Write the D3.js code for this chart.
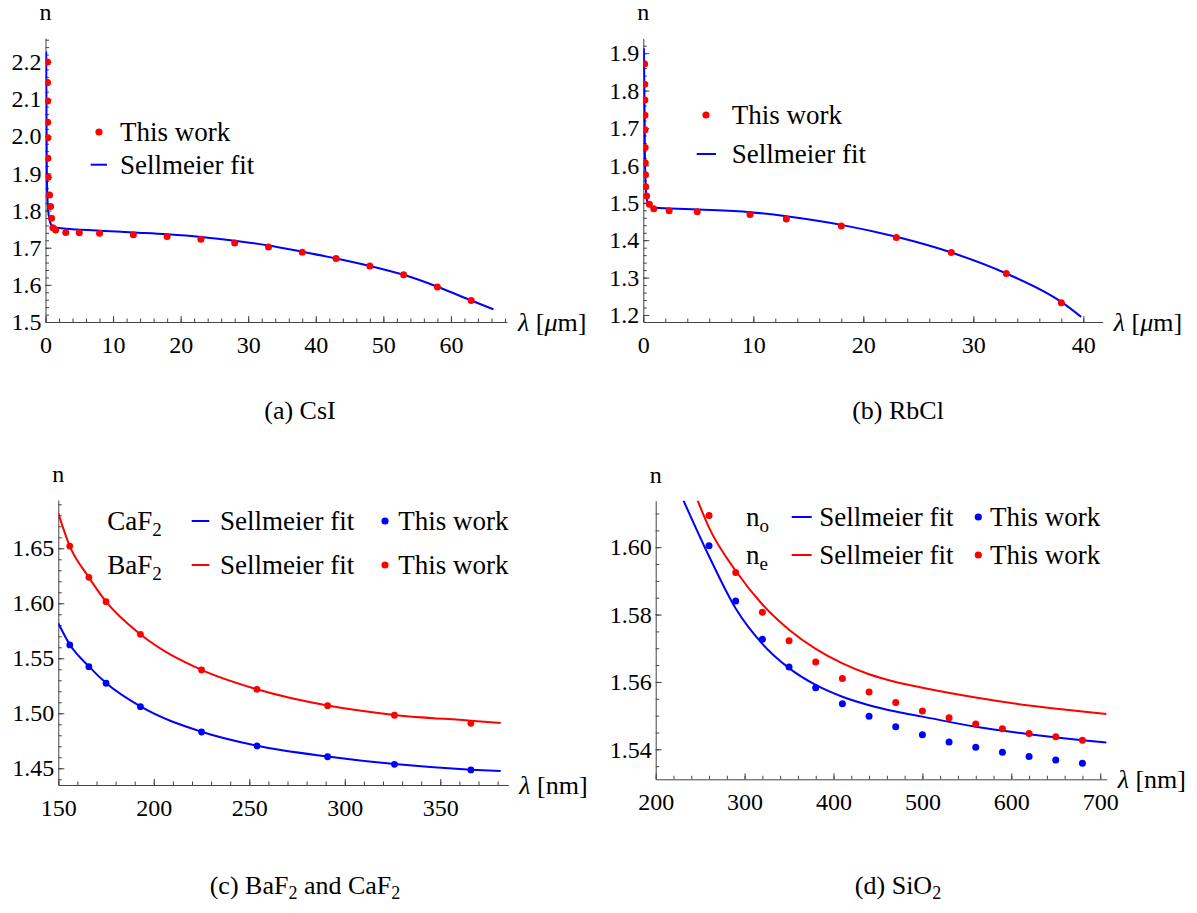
<!DOCTYPE html>
<html>
<head>
<meta charset="utf-8">
<script src="https://cdn.jsdelivr.net/npm/d3@7"></script>
<style>
  body { margin: 0; background: #fff; }
</style>
</head>
<body>
<div id="chart"></div>
<script>
// ---- (a) CsI, wavelength in um ----
const csiLambda = [0.30, 0.31, 0.32, 0.33, 0.34, 0.36, 0.40, 0.60, 0.75, 0.90, 1.1, 1.5, 3, 5, 8, 13, 18, 23, 28, 33, 38, 43, 48, 53, 58, 63];
const csiN      = [2.200, 2.145, 2.095, 2.038, 1.996, 1.941, 1.890, 1.842, 1.811, 1.779, 1.754, 1.748, 1.741, 1.740, 1.739, 1.735, 1.730, 1.723, 1.713, 1.702, 1.688, 1.671, 1.651, 1.627, 1.594, 1.558];
const csiFitLambda = [0.1, 0.15, 0.2, 0.3, 0.4, 0.6, 0.8, 1.2, 2, 3, 8, 13, 18, 23, 28, 33, 38, 43, 48, 53, 58, 63, 66.3];
const csiFitN      = [2.228, 2.05, 1.90, 1.83, 1.80, 1.775, 1.763, 1.756, 1.753, 1.751, 1.746, 1.741, 1.736, 1.729, 1.719, 1.706, 1.689, 1.671, 1.651, 1.627, 1.595, 1.558, 1.534];
const csiXTicks = [0, 10, 20, 30, 40, 50, 60];
const csiYTicks = [1.5, 1.6, 1.7, 1.8, 1.9, 2.0, 2.1, 2.2];

// ---- (b) RbCl, wavelength in um ----
const rbclLambda = [0.12, 0.13, 0.14, 0.15, 0.16, 0.17, 0.18, 0.20, 0.22, 0.30, 0.55, 0.95, 2.35, 4.9, 9.7, 13, 18, 23, 28, 33, 38];
const rbclN      = [1.871, 1.817, 1.775, 1.734, 1.695, 1.648, 1.607, 1.575, 1.543, 1.518, 1.496, 1.484, 1.479, 1.476, 1.469, 1.457, 1.438, 1.407, 1.367, 1.311, 1.233];
const rbclFitLambda = [0.05, 0.1, 0.15, 0.25, 0.45, 1.0, 2.4, 5, 9.7, 13, 18, 23, 28, 33, 38, 39.8];
const rbclFitN      = [1.913, 1.80, 1.62, 1.53, 1.494, 1.487, 1.485, 1.482, 1.475, 1.464, 1.441, 1.409, 1.367, 1.311, 1.235, 1.195];
const rbclXTicks = [0, 10, 20, 30, 40];
const rbclYTicks = [1.2, 1.3, 1.4, 1.5, 1.6, 1.7, 1.8, 1.9];

// ---- (c) BaF2 and CaF2, wavelength in nm ----
const fluorLambda = [156, 166, 175, 193, 225, 254, 291, 326, 366];
const caf2N = [1.5621, 1.5424, 1.5273, 1.5060, 1.4830, 1.4703, 1.4605, 1.4536, 1.4485];
const baf2N = [1.6520, 1.6236, 1.6015, 1.5718, 1.5394, 1.5218, 1.5069, 1.4982, 1.4909];
const caf2FitLambda = [150, 156, 166, 175, 193, 225, 254, 291, 326, 366, 381.6];
const caf2FitN      = [1.5818, 1.5625, 1.5426, 1.5275, 1.5062, 1.4832, 1.4705, 1.4607, 1.4538, 1.4487, 1.4475];
const baf2FitLambda = [150, 156, 166, 175, 193, 225, 254, 291, 326, 366, 381.6];
const baf2FitN      = [1.6818, 1.6520, 1.6236, 1.6015, 1.5718, 1.5394, 1.5218, 1.5070, 1.4985, 1.4933, 1.4912];
const fluorXTicks = [150, 200, 250, 300, 350];
const fluorYTicks = [1.45, 1.50, 1.55, 1.60, 1.65];

// ---- (d) SiO2, wavelength in nm ----
const sio2Lambda = [260, 290, 320, 350, 380, 410, 440, 470, 500, 530, 560, 590, 620, 650, 680];
const noN = [1.6004, 1.5840, 1.5727, 1.5644, 1.5583, 1.5535, 1.5498, 1.5467, 1.5443, 1.5422, 1.5406, 1.5391, 1.5379, 1.5368, 1.5359];
const neN = [1.6094, 1.5925, 1.5807, 1.5722, 1.5659, 1.5610, 1.5570, 1.5539, 1.5514, 1.5494, 1.5475, 1.5461, 1.5447, 1.5437, 1.5427];
const noFitLambda = [231, 260, 290, 320, 350, 380, 410, 440, 470, 500, 560, 620, 680, 707];
const noFitN      = [1.6140, 1.5973, 1.5818, 1.5713, 1.5641, 1.5591, 1.5556, 1.5531, 1.5512, 1.5497, 1.5467, 1.5445, 1.5427, 1.5420];
const neFitLambda = [247, 260, 290, 320, 350, 380, 410, 440, 470, 500, 560, 620, 680, 707];
const neFitN      = [1.6140, 1.6058, 1.5930, 1.5830, 1.5755, 1.5698, 1.5655, 1.5623, 1.5600, 1.5583, 1.5554, 1.5530, 1.5512, 1.5505];
const sio2XTicks = [200, 300, 400, 500, 600, 700];
const sio2YTicks = [1.54, 1.56, 1.58, 1.60];

const RED = "#ff0000";
const BLUE = "#0000ff";
const AXIS = "#444";
const FONT = "'Liberation Serif', 'Times New Roman', 'DejaVu Serif', serif";

const svg = d3.select("#chart").append("svg")
    .attr("width", 1197)
    .attr("height", 913);

function addText(sel, size) {
    return sel.append("text")
        .style("font-family", FONT)
        .style("font-size", size + "px")
        .attr("fill", "#000");
}

function drawPanel(p) {
    const x = d3.scaleLinear().domain(p.xDomain).range([p.left, p.right]);
    const y = d3.scaleLinear().domain(p.yDomain).range([p.bottom, p.top]);

    svg.append("clipPath").attr("id", "clip-" + p.id)
        .append("rect")
        .attr("x", p.left).attr("y", p.top)
        .attr("width", p.right - p.left).attr("height", p.bottom - p.top);

    const g = svg.append("g");

    // minor ticks (inward)
    g.append("g")
        .attr("transform", `translate(0,${p.bottom})`)
        .call(d3.axisBottom(x).tickValues(p.xMinor).tickSize(-3.5).tickFormat(""))
        .call(a => a.select(".domain").remove());
    g.append("g")
        .attr("transform", `translate(${p.left},0)`)
        .call(d3.axisLeft(y).tickValues(p.yMinor).tickSize(-3.5).tickFormat(""))
        .call(a => a.select(".domain").remove());

    // major ticks + labels
    const xa = g.append("g")
        .attr("transform", `translate(0,${p.bottom})`)
        .call(d3.axisBottom(x).tickValues(p.xTicks).tickSize(-6).tickSizeOuter(0)
            .tickPadding(14).tickFormat(d3.format("d")));
    const ya = g.append("g")
        .attr("transform", `translate(${p.left},0)`)
        .call(d3.axisLeft(y).tickValues(p.yTicks).tickSize(-6).tickSizeOuter(0)
            .tickPadding(4).tickFormat(d3.format(p.yFormat)));

    g.selectAll(".domain, .tick line").attr("stroke", AXIS).attr("stroke-width", 1);
    [xa, ya].forEach(a => a.selectAll("text")
        .attr("fill", "#000")
        .style("font-family", FONT)
        .style("font-size", "24px"));

    // axis labels
    addText(g, 24)
        .attr("x", p.left)
        .attr("y", p.top - 18)
        .attr("text-anchor", "middle")
        .text("n");

    const xl = addText(g, 26)
        .attr("x", p.right + 11)
        .attr("y", p.bottom + 9);
    xl.append("tspan").style("font-style", "italic").text("λ");
    if (p.unit === "um") {
        xl.append("tspan").text(" [");
        xl.append("tspan").style("font-style", "italic").text("μ");
        xl.append("tspan").text("m]");
    } else {
        xl.append("tspan").text(" [nm]");
    }

    const plot = g.append("g").attr("clip-path", `url(#clip-${p.id})`);
    const line = d3.line()
        .x(d => x(d[0]))
        .y(d => y(d[1]))
        .curve(d3.curveMonotoneX);

    p.fits.forEach(f => {
        plot.append("path")
            .datum(d3.zip(f.x, f.y))
            .attr("fill", "none")
            .attr("stroke", f.color)
            .attr("stroke-width", 2)
            .attr("d", line);
    });
    p.points.forEach(s => {
        plot.append("g")
            .selectAll("circle")
            .data(d3.zip(s.x, s.y))
            .join("circle")
            .attr("cx", d => x(d[0]))
            .attr("cy", d => y(d[1]))
            .attr("r", s.r || 3.5)
            .attr("fill", s.color);
    });
    return g;
}

function legendText(g, x, y, parts) {
    const t = addText(g, 27)
        .attr("x", x).attr("y", y)
        .attr("dy", "0.33em");
    parts.forEach(pt => {
        if (pt.sub) {
            t.append("tspan").style("font-size", "19px").attr("dy", "6").text(pt.sub);
        } else {
            t.append("tspan").text(pt.text);
        }
    });
    return t;
}

function caption(x, y, parts) {
    const t = addText(svg, 26)
        .attr("x", x).attr("y", y)
        .attr("text-anchor", "middle");
    let down = false;
    parts.forEach(pt => {
        if (pt.sub) {
            t.append("tspan").style("font-size", "18px").attr("dy", "5").text(pt.sub);
            down = true;
        } else {
            t.append("tspan").attr("dy", down ? "-5" : null).text(pt.text);
            down = false;
        }
    });
}

// ---------- (a) CsI ----------
const ga = drawPanel({
    id: "a", left: 45.5, right: 507, top: 38, bottom: 322,
    xDomain: [0, 68.3], yDomain: [1.5, 2.2646],
    xTicks: csiXTicks, yTicks: csiYTicks, yFormat: ".1f", unit: "um",
    xMinor: d3.range(0, 68.3, 2), yMinor: d3.range(1.5, 2.27, 0.02),
    fits: [{ x: csiFitLambda, y: csiFitN, color: BLUE }],
    points: [{ x: csiLambda, y: csiN, color: RED }]
});
ga.append("circle").attr("cx", 99).attr("cy", 132).attr("r", 3.6).attr("fill", RED);
legendText(ga, 120, 132, [{ text: "This work" }]);
ga.append("line").attr("x1", 90.7).attr("x2", 107).attr("y1", 164.7).attr("y2", 164.7)
    .attr("stroke", BLUE).attr("stroke-width", 2);
legendText(ga, 120, 165, [{ text: "Sellmeier fit" }]);

// ---------- (b) RbCl ----------
const gb = drawPanel({
    id: "b", left: 643.3, right: 1102.7, top: 38.3, bottom: 322,
    xDomain: [0, 41.76], yDomain: [1.1813, 1.9398],
    xTicks: rbclXTicks, yTicks: rbclYTicks, yFormat: ".1f", unit: "um",
    xMinor: d3.range(0, 41.8, 2), yMinor: d3.range(1.2, 1.94, 0.02),
    fits: [{ x: rbclFitLambda, y: rbclFitN, color: BLUE }],
    points: [{ x: rbclLambda, y: rbclN, color: RED }]
});
gb.append("circle").attr("cx", 706).attr("cy", 115).attr("r", 3.6).attr("fill", RED);
legendText(gb, 731.7, 115, [{ text: "This work" }]);
gb.append("line").attr("x1", 696.7).attr("x2", 716).attr("y1", 154).attr("y2", 154)
    .attr("stroke", BLUE).attr("stroke-width", 2);
legendText(gb, 731.7, 154, [{ text: "Sellmeier fit" }]);

// ---------- (c) BaF2 and CaF2 ----------
const gc = drawPanel({
    id: "c", left: 58.3, right: 508.3, top: 500, bottom: 785,
    xDomain: [150, 385.6], yDomain: [1.4348, 1.6939],
    xTicks: fluorXTicks, yTicks: fluorYTicks, yFormat: ".2f", unit: "nm",
    xMinor: d3.range(150, 386, 10), yMinor: d3.range(1.44, 1.694, 0.01),
    fits: [{ x: caf2FitLambda, y: caf2FitN, color: BLUE },
           { x: baf2FitLambda, y: baf2FitN, color: RED }],
    points: [{ x: fluorLambda, y: caf2N, color: BLUE, r: 3.4 },
             { x: fluorLambda, y: baf2N, color: RED, r: 3.4 }]
});
[[521, "Ca", BLUE], [565, "Ba", RED]].forEach(([yy, el, col]) => {
    legendText(gc, 107.3, yy, [{ text: el + "F" }, { sub: "2" }]);
    gc.append("line").attr("x1", 191.7).attr("x2", 209.3).attr("y1", yy).attr("y2", yy)
        .attr("stroke", col).attr("stroke-width", 2);
    legendText(gc, 220, yy, [{ text: "Sellmeier fit" }]);
    gc.append("circle").attr("cx", 385).attr("cy", yy).attr("r", 3.6).attr("fill", col);
    legendText(gc, 398.3, yy, [{ text: "This work" }]);
});

// ---------- (d) SiO2 ----------
const gd = drawPanel({
    id: "d", left: 655.7, right: 1106.7, top: 500.7, bottom: 779.3,
    xDomain: [200, 707.3], yDomain: [1.5311, 1.6138],
    xTicks: sio2XTicks, yTicks: sio2YTicks, yFormat: ".2f", unit: "nm",
    xMinor: d3.range(200, 708, 20), yMinor: d3.range(1.535, 1.614, 0.005),
    fits: [{ x: noFitLambda, y: noFitN, color: BLUE },
           { x: neFitLambda, y: neFitN, color: RED }],
    points: [{ x: sio2Lambda, y: noN, color: BLUE },
             { x: sio2Lambda, y: neN, color: RED }]
});
[[517, "o", BLUE], [555, "e", RED]].forEach(([yy, s, col]) => {
    legendText(gd, 746, yy, [{ text: "n" }, { sub: s }]);
    gd.append("line").attr("x1", 791.7).attr("x2", 811.7).attr("y1", yy).attr("y2", yy)
        .attr("stroke", col).attr("stroke-width", 2);
    legendText(gd, 819.3, yy, [{ text: "Sellmeier fit" }]);
    gd.append("circle").attr("cx", 978.3).attr("cy", yy).attr("r", 3.6).attr("fill", col);
    legendText(gd, 990, yy, [{ text: "This work" }]);
});

// captions
caption(300, 419, [{ text: "(a) CsI" }]);
caption(898, 419, [{ text: "(b) RbCl" }]);
caption(305, 894, [{ text: "(c) BaF" }, { sub: "2" }, { text: " and CaF" }, { sub: "2" }]);
caption(898, 894, [{ text: "(d) SiO" }, { sub: "2" }]);
</script>
</body>
</html>
